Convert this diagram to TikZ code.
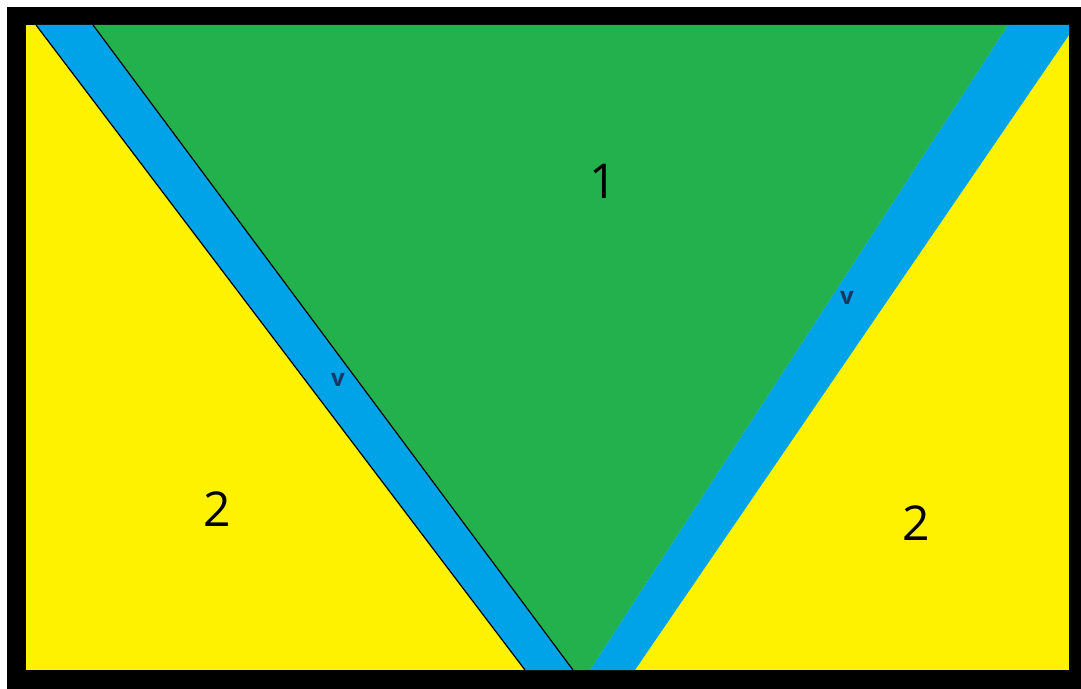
\documentclass[tikz,border=0pt]{standalone}
\usepackage{fontspec}
\setmainfont{Open Sans}
\usepackage{tikz}

\definecolor{zoneyellow}{RGB}{255,242,0}
\definecolor{zonegreen}{RGB}{34,177,76}
\definecolor{bandblue}{RGB}{0,162,232}
\definecolor{vblue}{RGB}{25,55,100}

\begin{document}
\begin{tikzpicture}[
  x=0.5pt, y=-0.5pt,
  zonelabel/.style={font=\fontsize{24}{28}\selectfont, text=black, inner sep=0pt},
  vlabel/.style={font=\fontsize{12}{14}\selectfont\bfseries, text=vblue, inner sep=0pt},
  edge/.style={line width=0.6pt, black}
]
\useasboundingbox (0,0) rectangle (1081,689);
\fill[white] (0,0) rectangle (1081,689);
\fill[black] (7,7) rectangle (1081,689);

% corners of the inner field and of the two bands
\coordinate (tl) at (26,25);
\coordinate (br) at (1069,670);
\coordinate (lbtop1) at (36,25);
\coordinate (lbtop2) at (93,25);
\coordinate (lbbot1) at (525,670);
\coordinate (lbbot2) at (573,670);
\coordinate (rbtop1) at (1008,25);
\coordinate (rbtop2) at (1069,25);
\coordinate (rbside) at (1069,35);
\coordinate (rbbot1) at (590,670);
\coordinate (rbbot2) at (635,670);

\fill[zoneyellow] (tl) rectangle (br);
\fill[zonegreen] (lbtop2) -- (rbtop1) -- (rbbot1) -- (lbbot2) -- cycle;
\fill[bandblue] (lbtop1) -- (lbtop2) -- (lbbot2) -- (lbbot1) -- cycle;
\fill[bandblue] (rbtop1) -- (rbtop2) -- (rbside) -- (rbbot2) -- (rbbot1) -- cycle;
\draw[edge] (lbtop1) -- (lbbot1);
\draw[edge] (lbtop2) -- (lbbot2);

\node[zonelabel] (one) at (603,181) {1};
\node[zonelabel] (twoleft) at (217,509) {2};
\node[zonelabel] (tworight) at (916,523) {2};
\node[vlabel] (vleft) at (338,380) {v};
\node[vlabel] (vright) at (847,298) {v};
\end{tikzpicture}
\end{document}
